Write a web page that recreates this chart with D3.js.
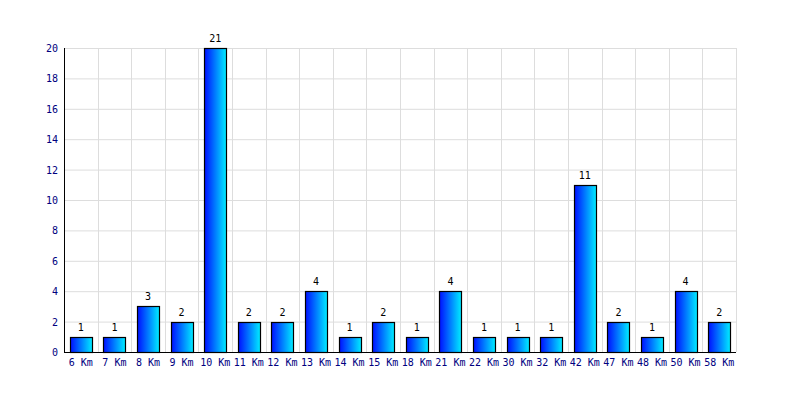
<!DOCTYPE html>
<html><head><meta charset="utf-8">
<script src="https://cdn.jsdelivr.net/npm/d3@7"></script>
<style>body{margin:0;background:#fff}</style>
</head><body>
<svg id="c" width="800" height="400"></svg>
<script>
const categories = ["6 Km","7 Km","8 Km","9 Km","10 Km","11 Km","12 Km","13 Km","14 Km","15 Km","18 Km","21 Km","22 Km","30 Km","32 Km","42 Km","47 Km","48 Km","50 Km","58 Km"];
const values = [1,1,3,2,21,2,2,4,1,2,1,4,1,1,1,11,2,1,4,2];
const yTicks = [0,2,4,6,8,10,12,14,16,18,20];

const svg = d3.select("#c");
const m = {l:64, r:736, t:48, b:352};
const x = d3.scaleBand().domain(categories).range([m.l, m.r]);
const y = d3.scaleLinear().domain([0,20]).range([m.b, m.t]).clamp(true);
const font = "'DejaVu Sans Mono', monospace";

const defs = svg.append("defs");
const g = defs.append("linearGradient").attr("id","bg").attr("x1","0").attr("x2","1").attr("y1","0").attr("y2","0");
g.append("stop").attr("offset","0").attr("stop-color","#0010ff");
g.append("stop").attr("offset","1").attr("stop-color","#00eeff");

// grid
svg.append("g").selectAll("line").data(yTicks).join("line")
  .attr("x1", m.l).attr("x2", m.r).attr("y1", d=>y(d)+0.5).attr("y2", d=>y(d)+0.5)
  .attr("stroke","#dddddd");
svg.append("g").selectAll("line").data(categories.slice(1).concat(["__end"])).join("line")
  .attr("x1", (d,i)=> Math.round(m.l + (i+1)*x.step())+0.5)
  .attr("x2", (d,i)=> Math.round(m.l + (i+1)*x.step())+0.5)
  .attr("y1", m.t).attr("y2", m.b).attr("stroke","#dddddd");

// bars
const bw = 22;
svg.append("g").selectAll("rect").data(categories).join("rect")
  .attr("x", (d)=> Math.round(x(d) + x.bandwidth()/2 - bw/2)+0.5)
  .attr("width", bw)
  .attr("y", (d,i)=> Math.round(y(values[i]))+0.5)
  .attr("height", (d,i)=> Math.round(m.b) - Math.round(y(values[i])))
  .attr("fill","url(#bg)").attr("stroke","#000").attr("stroke-width",1.2);

// value labels
svg.append("g").selectAll("text").data(categories).join("text")
  .attr("x", d=> x(d)+x.bandwidth()/2)
  .attr("y", (d,i)=> y(values[i]) - 6)
  .attr("text-anchor","middle").attr("font-family",font).attr("font-size",10).attr("fill","#000")
  .text((d,i)=> values[i]);

// axes lines
svg.append("line").attr("x1",m.l+0.5).attr("x2",m.l+0.5).attr("y1",m.t).attr("y2",m.b+1).attr("stroke","#000");
svg.append("line").attr("x1",m.l).attr("x2",m.r).attr("y1",m.b+0.5).attr("y2",m.b+0.5).attr("stroke","#000");

// y tick labels
svg.append("g").selectAll("text").data(yTicks).join("text")
  .attr("x", 58).attr("y", d=> y(d)+4)
  .attr("text-anchor","end").attr("font-family",font).attr("font-size",10).attr("fill","#000080")
  .text(d=>d);

// x labels
svg.append("g").selectAll("text").data(categories).join("text")
  .attr("x", d=> x(d)+x.bandwidth()/2)
  .attr("y", 366)
  .attr("text-anchor","middle").attr("font-family",font).attr("font-size",10).attr("fill","#000080")
  .text(d=>d);
</script>
</body></html>
